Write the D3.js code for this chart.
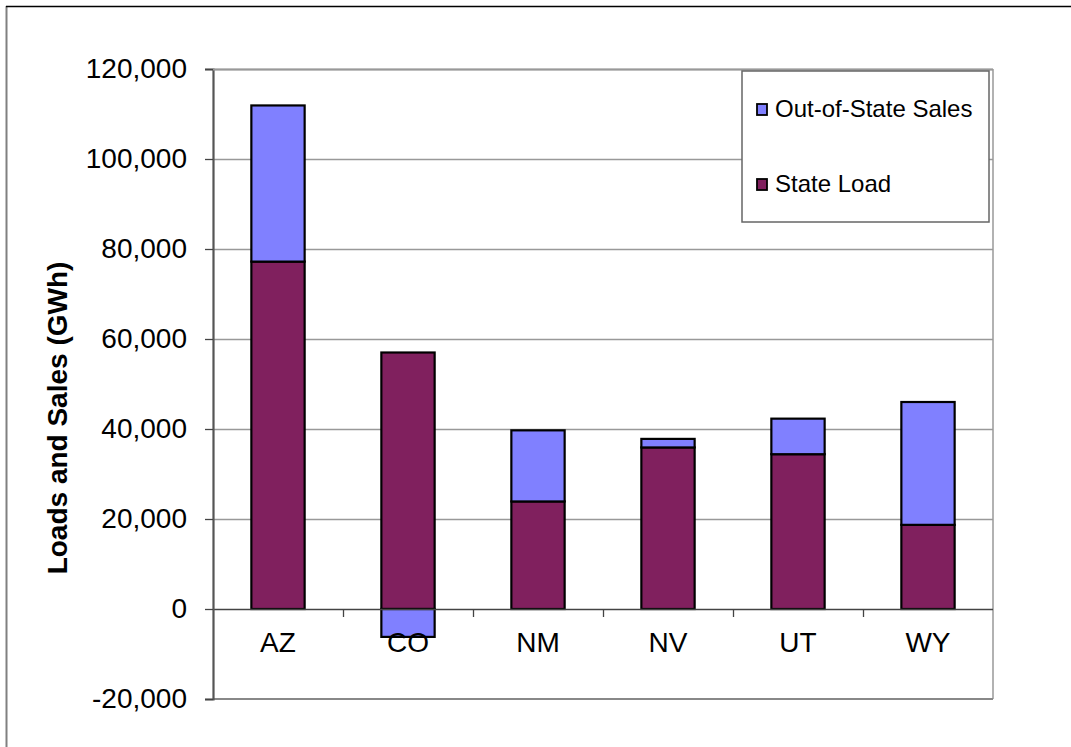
<!DOCTYPE html>
<html>
<head>
<meta charset="utf-8">
<script src="https://cdn.jsdelivr.net/npm/d3@7"></script>
<style>
  html, body { margin: 0; padding: 0; background: #fff; }
  svg { display: block; font-family: "Liberation Sans", Arial, sans-serif; }
</style>
</head>
<body>
<svg id="chart" width="1071" height="747"></svg>
<script>
// State loads and out-of-state sales, GWh
const states = ["AZ", "CO", "NM", "NV", "UT", "WY"];
const stateLoad = [77200, 57000, 23900, 35900, 34400, 18700];
const outOfStateSales = [34700, -6200, 15800, 1900, 7900, 27300];
const seriesNames = ["State Load", "Out-of-State Sales"];
const seriesColors = ["#80205E", "#8080FF"];
const yTicks = [-20000, 0, 20000, 40000, 60000, 80000, 100000, 120000];

const svg = d3.select("#chart");
const plot = { left: 213, right: 993, top: 69, bottom: 699 };

// outer chart frame
svg.append("line").attr("x1", 6.5).attr("x2", 6.5).attr("y1", 6).attr("y2", 747)
  .attr("stroke", "#808080").attr("stroke-width", 2);
svg.append("line").attr("x1", 6).attr("x2", 1071).attr("y1", 6.5).attr("y2", 6.5)
  .attr("stroke", "#000").attr("stroke-width", 1.5);

const x = d3.scaleBand().domain(states).range([plot.left, plot.right]).paddingInner(0.59).paddingOuter(0.295);
const xOuter = d3.scaleBand().domain(states).range([plot.left, plot.right]);
const y = d3.scaleLinear().domain([-20000, 120000]).range([plot.bottom, plot.top]);

// gridlines
svg.append("g").selectAll("line").data(yTicks.filter(d => d !== 0 && d !== -20000)).join("line")
  .attr("x1", plot.left).attr("x2", plot.right)
  .attr("y1", d => Math.round(y(d)) + 0.5).attr("y2", d => Math.round(y(d)) + 0.5)
  .attr("stroke", "#999").attr("stroke-width", 1.3);

// plot area border (right + bottom)
svg.append("line").attr("x1", plot.right).attr("x2", plot.right).attr("y1", plot.top).attr("y2", plot.bottom)
  .attr("stroke", "#999").attr("stroke-width", 1.5);
svg.append("line").attr("x1", plot.left).attr("x2", plot.right).attr("y1", plot.bottom).attr("y2", plot.bottom)
  .attr("stroke", "#888").attr("stroke-width", 2);

// stacked bars (negatives stack below zero)
const rows = states.map((s, i) => ({ state: s, "State Load": stateLoad[i], "Out-of-State Sales": outOfStateSales[i] }));
const stack = d3.stack().keys(seriesNames).offset(d3.stackOffsetDiverging);
const layers = stack(rows);

svg.append("g").selectAll("g").data(layers).join("g")
  .attr("fill", (d, i) => seriesColors[i])
  .selectAll("rect").data(d => d).join("rect")
  .attr("x", d => x(d.data.state))
  .attr("width", x.bandwidth())
  .attr("y", d => y(Math.max(d[0], d[1])))
  .attr("height", d => Math.abs(y(d[0]) - y(d[1])))
  .attr("stroke", "#000").attr("stroke-width", 2.2);

// zero axis with category ticks
svg.append("line").attr("x1", plot.left).attr("x2", plot.right)
  .attr("y1", Math.round(y(0)) + 0.5).attr("y2", Math.round(y(0)) + 0.5)
  .attr("stroke", "#444").attr("stroke-width", 1.3);
svg.append("g").selectAll("line").data(states.slice(1)).join("line")
  .attr("x1", d => xOuter(d) + 0.5).attr("x2", d => xOuter(d) + 0.5)
  .attr("y1", y(0)).attr("y2", y(0) + 8)
  .attr("stroke", "#444").attr("stroke-width", 1.3);

// category labels
svg.append("g").selectAll("text").data(states).join("text")
  .attr("x", d => xOuter(d) + xOuter.bandwidth() / 2)
  .attr("y", 652)
  .attr("text-anchor", "middle")
  .attr("font-size", 28)
  .attr("fill", "#000")
  .text(d => d);

// y axis
const yAxis = d3.axisLeft(y).tickValues(yTicks).tickSize(8).tickPadding(18)
  .tickFormat(d => d3.format(",")(d).replace("−", "-"));
const ga = svg.append("g").attr("transform", `translate(${plot.left},0)`).call(yAxis);
ga.select(".domain").attr("stroke", "#555").attr("stroke-width", 2.2);
ga.selectAll(".tick line").attr("stroke", "#444").attr("stroke-width", 1.3);
ga.selectAll(".tick text").attr("font-size", 28).attr("fill", "#000")
  .attr("font-family", "Liberation Sans, Arial, sans-serif");

// top plot border
svg.append("line").attr("x1", plot.left).attr("x2", plot.right).attr("y1", plot.top + 0.5).attr("y2", plot.top + 0.5)
  .attr("stroke", "#999").attr("stroke-width", 2);

// y axis title
svg.append("text")
  .attr("transform", "translate(67,418) rotate(-90)")
  .attr("text-anchor", "middle")
  .attr("font-size", 28).attr("font-weight", "bold")
  .text("Loads and Sales (GWh)");

// legend
const lg = svg.append("g");
lg.append("rect").attr("x", 742).attr("y", 71).attr("width", 247).attr("height", 151)
  .attr("fill", "#fff").attr("stroke", "#666").attr("stroke-width", 1.5);
const legendItems = [
  { name: "Out-of-State Sales", color: seriesColors[1], y: 117 },
  { name: "State Load", color: seriesColors[0], y: 192 }
];
legendItems.forEach(it => {
  lg.append("rect").attr("x", 757).attr("y", it.y - 13).attr("width", 10).attr("height", 11)
    .attr("fill", it.color).attr("stroke", "#000").attr("stroke-width", 1.8);
  lg.append("text").attr("x", 775).attr("y", it.y)
    .attr("font-size", 24).attr("fill", "#000").text(it.name);
});
</script>
</body>
</html>
